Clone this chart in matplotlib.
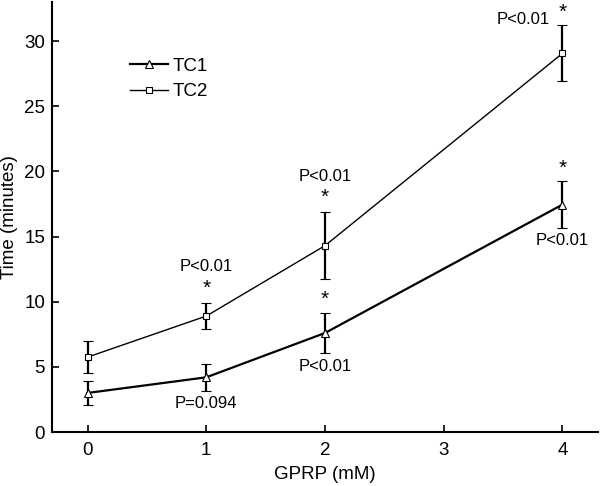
import numpy as np
from matplotlib import pyplot as plt

plt.rcParams["font.family"] = ["Liberation Sans", "DejaVu Sans"]

# data
gprp = [0, 1, 2, 4]
tc1 = [3.0, 4.2, 7.6, 17.45]
tc1_err = [0.9, 1.05, 1.55, 1.8]
tc2 = [5.75, 8.9, 14.3, 29.05]
tc2_err = [1.25, 1.0, 2.55, 2.15]

# significance labels: (x, y, text)
p_labels = [
    (1, 12.7, "P<0.01"),
    (2, 19.6, "P<0.01"),
    (3.67, 31.65, "P<0.01"),
    (1, 2.2, "P=0.094"),
    (2, 5.0, "P<0.01"),
    (4, 14.7, "P<0.01"),
]
stars = [(1, 11.0), (2, 18.0), (4, 32.2), (2, 10.2), (4, 20.2)]


def main():
    fig = plt.figure(figsize=(6.01, 4.86), dpi=100)
    ax = fig.add_axes([0.0865, 0.111, 0.9085, 0.885])

    ax.errorbar(gprp, tc1, yerr=tc1_err, color="black", lw=1.6, marker="^",
                ms=5.5, mfc="white", mec="black", mew=0.8, capsize=3.5,
                elinewidth=1.6, capthick=1.6, label="TC1")
    ax.errorbar(gprp, tc2, yerr=tc2_err, color="black", lw=1.0, marker="s",
                ms=4.8, mfc="white", mec="black", mew=0.8, capsize=3.5,
                elinewidth=1.6, capthick=1.6, label="TC2")

    for x, y, s in p_labels:
        ax.text(x, y, s, ha="center", va="center", fontsize=12)
    for x, y in stars:
        ax.text(x, y, "*", ha="center", va="center", fontsize=15)

    ax.set_xlim(-0.3, 4.3)
    ax.set_ylim(0, 33)
    ax.set_xticks([0, 1, 2, 3, 4])
    ax.set_yticks([0, 5, 10, 15, 20, 25, 30])
    ax.tick_params(direction="in", length=5, width=1.2, labelsize=13.5)
    ax.tick_params(axis="x", pad=7)
    ax.tick_params(axis="y", pad=5)
    for side in ["top", "right"]:
        ax.spines[side].set_visible(False)
    for side in ["left", "bottom"]:
        ax.spines[side].set_linewidth(1.5)

    ax.set_xlabel("GPRP (mM)", fontsize=13.5, labelpad=5)
    ax.set_ylabel("Time (minutes)", fontsize=13.5, va="center")
    ax.yaxis.set_label_coords(-0.077, 0.5)

    handles, labels = ax.get_legend_handles_labels()
    handles = [h[0] for h in handles]
    ax.legend(handles, labels, loc="upper left", bbox_to_anchor=(0.143, 0.871),
              frameon=False, fontsize=13.5, handlelength=2.0,
              handletextpad=0.25, labelspacing=0.45, borderpad=0,
              borderaxespad=0)

    fig.savefig("out.png", dpi=100)


if __name__ == "__main__":
    main()
